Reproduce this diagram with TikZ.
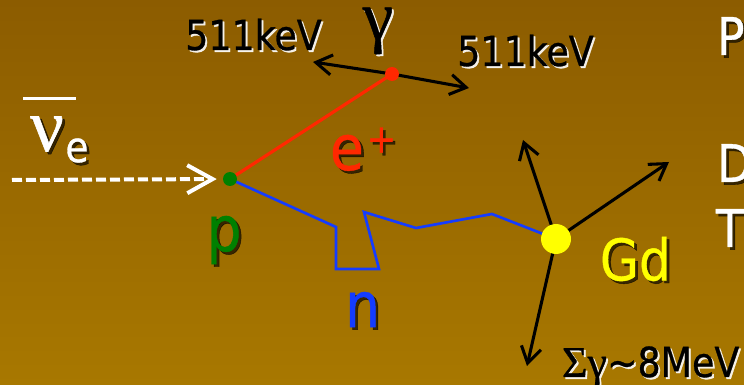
\documentclass[tikz,border=0pt]{standalone}
\usepackage{fontspec}
\usetikzlibrary{arrows.meta}
\newfontfamily\tah[FakeStretch=0.88,FakeBold=0.7]{DejaVu Sans}
\newfontfamily\symf[FakeBold=0.7]{Liberation Serif}
\definecolor{bgtop}{RGB}{140,92,0}
\definecolor{bgbot}{RGB}{168,120,0}
\definecolor{ered}{RGB}{255,40,0}
\definecolor{pgreen}{RGB}{0,128,0}
\definecolor{nblue}{RGB}{20,60,255}
\definecolor{gdyel}{RGB}{255,255,0}
\pgfdeclarelayer{bgfill}
\pgfdeclarelayer{lines}
\pgfsetlayers{bgfill,lines,main}
\newcommand\shlabel[5]{%
  \node[#2,#3] at #4 {#5};
  \node[#2] (#1) at #4 {#5};}
\begin{document}
\begin{tikzpicture}[x=0.75pt,y=-0.75pt,
  lbl/.style={inner sep=0pt,outer sep=0pt},
  glw/.style={text=white,opacity=0.9,xshift=1.4pt,yshift=-1.4pt},
  shk/.style={text=black,opacity=0.65,xshift=2pt,yshift=-2pt},
  dotnode/.style={circle,inner sep=0pt,minimum size=10.5pt},
  nuarrow/.style={white,line width=3pt,dash pattern=on 7.5pt off 3pt,
    -{Straight Barb[length=19pt,width=21pt,line width=3pt]},shorten >=4.5pt},
  eline/.style={ered,line width=2.4pt},
  nline/.style={nblue,line width=2pt,line join=miter},
  garrow/.style={black,line width=2.3pt,-{Straight Barb[length=12pt,width=15pt,line width=2.3pt]}},
  fkev/.style={font=\tah\fontsize{31}{31}\selectfont},
  fbig/.style={font=\tah\fontsize{47}{47}\selectfont}
]
\useasboundingbox (0,0) rectangle (744,385);
\clip (0,0) rectangle (744,385);
\begin{pgfonlayer}{bgfill}
\fill[top color=bgtop,bottom color=bgbot] (0,0) rectangle (744,385);
\end{pgfonlayer}

% vertices
\node[dotnode,fill=pgreen] (p) at (230,179) {};
\node[dotnode,fill=ered] (ep) at (392,74) {};
\node[circle,inner sep=0pt,minimum size=22.5pt,fill=gdyel] (gd) at (556,239) {};
\coordinate (nustart) at (12,180);
\coordinate (gl) at (313,62);
\coordinate (gr) at (469,88);
\coordinate (b1) at (336,227);
\coordinate (b2) at (336,269);
\coordinate (b3) at (379,269);
\coordinate (b4) at (364,212);
\coordinate (b5) at (416,228);
\coordinate (b6) at (492,214);
\coordinate (g1) at (523,140);
\coordinate (g2) at (669,162);
\coordinate (g3) at (527,366);

\begin{pgfonlayer}{lines}
\draw[nuarrow] (nustart) -- (p);
\draw[eline] (p.center) -- (ep.center);
\draw[garrow] (ep.center) -- (gl);
\draw[garrow] (ep.center) -- (gr);
\draw[nline] (p.center) -- (b1) -- (b2) -- (b3) -- (b4) -- (b5) -- (b6) -- (gd.center);
\draw[garrow] (gd.center) -- (g1);
\draw[garrow] (gd.center) -- (g2);
\draw[garrow] (gd.center) -- (g3);
\end{pgfonlayer}

% labels
\shlabel{k1}{lbl,fkev,anchor=base}{glw}{(253.5,50)}{511keV}
\shlabel{k2}{lbl,fkev,anchor=base}{glw}{(525.5,66)}{511keV}
\shlabel{gam}{lbl,font=\symf\fontsize{52}{52}\selectfont}{glw}{(378,31)}{γ}
\shlabel{nu}{lbl,text=white,font=\symf\fontsize{56}{56}\selectfont}{shk}{(47,134)}{ν}
\shlabel{nue}{lbl,text=white,font=\tah\fontsize{32}{32}\selectfont}{shk}{(77,150.5)}{e}
\draw[white,line width=2.25pt] (23,99) -- (76,99);
\shlabel{elbl}{lbl,text=ered,fbig,anchor=base west}{shk}{(330,170)}{e\hspace{2pt}\raisebox{13pt}{\fontsize{30}{30}\selectfont+}}
\shlabel{plbl}{lbl,text=pgreen,fbig}{shk}{(224,240)}{p}
\shlabel{nlbl}{lbl,text=nblue,fbig}{shk}{(362.5,309.5)}{n}
\shlabel{gdlbl}{lbl,text=gdyel,font=\tah\fontsize{43}{43}\selectfont}{shk}{(635.5,259)}{Gd}
\shlabel{sum}{lbl,fkev,anchor=base west}{glw}{(562,377)}{{\symf\fontsize{33}{33}\selectfont Σγ}\textasciitilde 8MeV}
\shlabel{pp}{lbl,text=white,font=\tah\fontsize{39}{39}\selectfont,anchor=base west}{shk}{(717,55)}{P}
\shlabel{dd}{lbl,text=white,font=\tah\fontsize{39}{39}\selectfont,anchor=base west}{shk}{(717,182)}{D}
\shlabel{tt}{lbl,text=white,font=\tah\fontsize{39}{39}\selectfont,anchor=base west}{shk}{(716,247)}{T}
\end{tikzpicture}
\end{document}
